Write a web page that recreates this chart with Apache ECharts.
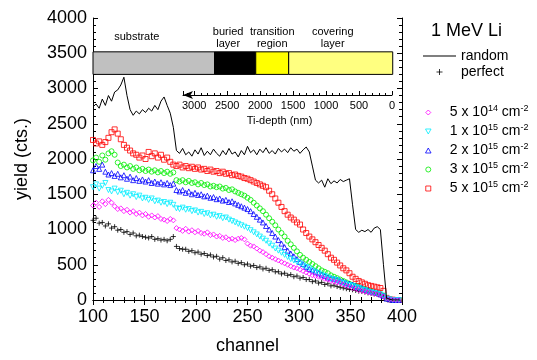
<!DOCTYPE html>
<html>
<head>
<meta charset="utf-8">
<script src="https://cdn.jsdelivr.net/npm/echarts@6/dist/echarts.min.js"></script>
<style>
html, body { margin: 0; background: #fff; }
#main { width: 537px; height: 360px; }
</style>
</head>
<body>
<div id="main"></div>
<script>
// channel numbers of the plotted points
var channels = [
    100,103,106,109,112,115,118,121,124,127,
    130,133,136,139,142,145,148,151,154,157,
    160,163,166,169,172,175,178,181,184,187,
    190,193,196,199,202,205,208,211,214,217,
    220,223,226,229,232,235,238,241,244,247,
    250,253,256,259,262,265,268,271,274,277,
    280,283,286,289,292,295,298,301,304,307,
    310,313,316,319,322,325,328,331,334,337,
    340,343,346,349,352,355,358,361,364,367,
    370,373,376,379,382,385,388,391,394,397
];

var randomYield = [
    2740,2780,2720,2850,2760,2900,2820,2950,2980,3050,
    3160,2900,2700,2620,2680,2640,2700,2660,2720,2680,
    2760,2700,2820,2880,2760,2650,2450,2120,2080,2150,
    2060,2100,2040,2130,2070,2160,2050,2110,2060,2140,
    2080,2040,2120,2060,2150,2070,2100,2030,2120,2060,
    2180,2090,2130,2060,2140,2090,2160,2080,2120,2070,
    2150,2100,2140,2090,2160,2110,2140,2080,2130,2170,
    2100,1900,1700,1660,1700,1600,1720,1650,1690,1660,
    1710,1680,1700,1720,1350,1000,960,990,970,1000,
    960,1020,1040,1000,500,30,10,0,0,0
];

var perfectYield = [
    1130,1160,1090,1100,1050,1080,1020,1040,990,1000,
    960,970,930,950,910,920,900,890,880,900,
    860,870,850,860,840,860,900,760,730,720,
    720,690,700,670,680,650,660,630,640,610,
    620,580,600,560,570,540,550,520,530,500,
    510,480,490,460,470,440,450,420,430,400,
    400,370,380,350,360,330,340,310,320,290,
    290,260,270,240,250,220,230,200,210,190,
    180,170,160,150,145,135,125,120,110,100,
    95,85,80,70,50,15,5,0,0,0
];

var dose5e14 = [
    1340,1380,1320,1400,1360,1420,1380,1330,1290,1300,
    1260,1280,1240,1260,1220,1240,1200,1220,1180,1200,
    1170,1190,1150,1140,1120,1150,1130,1020,1000,980,
    1010,970,990,960,980,950,940,960,920,930,
    900,910,880,890,860,870,850,870,880,860,
    800,770,760,730,700,680,650,620,600,580,
    560,540,520,500,480,460,450,430,410,390,
    370,350,340,330,320,300,290,270,260,250,
    240,220,200,190,170,160,140,130,120,110,
    100,90,80,70,50,20,10,5,0,0
];

var dose1e15 = [
    1600,1640,1580,1620,1660,1560,1540,1580,1530,1550,
    1500,1520,1480,1500,1460,1480,1440,1450,1420,1440,
    1400,1410,1380,1390,1360,1380,1350,1300,1290,1310,
    1280,1290,1260,1270,1240,1250,1220,1230,1200,1210,
    1180,1190,1160,1170,1140,1120,1100,1080,1060,1040,
    1020,990,960,930,900,870,840,800,770,730,
    700,670,640,610,580,560,540,520,490,470,
    450,420,400,380,360,340,320,300,290,280,
    250,240,220,210,200,180,170,150,140,120,
    110,100,90,80,60,20,10,0,0,0
];

var dose2e15 = [
    1840,1900,1860,1920,1820,1780,1800,1760,1790,1740,
    1770,1720,1750,1700,1730,1690,1710,1680,1700,1660,
    1680,1650,1670,1640,1660,1630,1650,1560,1540,1560,
    1520,1540,1500,1520,1490,1500,1470,1480,1450,1460,
    1430,1440,1410,1420,1390,1400,1370,1350,1330,1310,
    1290,1260,1220,1180,1140,1100,1050,1000,950,900,
    850,800,750,700,660,620,580,540,510,470,
    440,420,400,380,360,340,320,310,300,290,
    270,260,240,230,220,200,180,170,150,140,
    120,110,100,80,60,20,10,0,0,0
];

var dose3e15 = [
    1980,2020,1960,2050,1990,2080,2110,2060,1950,1900,
    1920,1880,1900,1860,1880,1840,1860,1830,1850,1820,
    1840,1810,1830,1800,1820,1790,1810,1700,1680,1700,
    1670,1690,1660,1670,1640,1660,1630,1640,1610,1620,
    1600,1610,1580,1590,1560,1570,1540,1520,1500,1480,
    1450,1420,1380,1340,1300,1260,1210,1160,1110,1060,
    1000,950,900,840,790,740,690,640,600,570,
    540,510,480,450,420,400,380,350,330,310,
    290,270,250,230,210,200,180,160,150,130,
    120,100,90,80,60,20,10,0,0,0
];

var dose5e15 = [
    2270,2220,2250,2200,2240,2300,2380,2420,2360,2280,
    2200,2160,2120,2080,2060,2020,2050,2000,2100,2040,
    2080,2020,2060,1990,2020,1960,1920,1900,1920,1880,
    1900,1870,1890,1860,1880,1850,1860,1830,1850,1820,
    1830,1800,1820,1790,1800,1770,1780,1760,1750,1730,
    1720,1700,1680,1660,1640,1620,1600,1550,1500,1440,
    1380,1320,1260,1210,1170,1140,1100,1070,1000,950,
    900,860,820,780,740,700,650,600,570,530,
    490,450,420,380,330,300,270,250,230,210,
    200,190,180,170,130,30,10,5,0,0
];

// legend text of the doses
var doseNames = ['5e14', '1e15', '2e15', '3e15', '5e15'];
var doseMantissa = ['5', '1', '2', '3', '5'];
var doseExponent = ['14', '15', '15', '15', '15'];

// layer bar of the inset (channels)
var layerNames = ['substrate', 'buried\nlayer', 'transition\nregion', 'covering\nlayer'];
var layerFrom = [100, 218, 258, 290];
var layerTo = [218, 258, 290, 391];
var barBottom = 3200;
var barTop = 3520;

// Ti-depth scale of the inset
var depthMax = 3170;

var FONT = 'Liberation Sans';

function pairs(ys) {
    return channels.map(function (c, i) { return [c, ys[i]]; });
}

function plain(v) { return String(v); }

var SYM = {
    plus: 'path://M5,0 L5,10 M0,5 L10,5',
    diamond: 'path://M5,0 L10,5 L5,10 L0,5 Z',
    down: 'path://M0,0 L10,0 L5,9 Z',
    up: 'path://M5,0 L10,9 L0,9 Z',
    circle: 'path://M0,5 A5,5 0 1,1 10,5 A5,5 0 1,1 0,5 Z',
    square: 'path://M0,0 L10,0 L10,10 L0,10 Z',
    line: 'path://M0,0 L33,0 L33,1 L0,1 Z'
};
var doseSymbols = [SYM.diamond, SYM.down, SYM.up, SYM.circle, SYM.square];
var doseColors = ['#ff00ff', '#00eeff', '#0000ff', '#00ee00', '#ff0000'];

var layerColors = ['#c0c0c0', '#000000', '#ffff00', '#ffff80'];
var layerLabelOffset = [[-17, -5], [-7, 2], [0, 2], [-8, 2]];

var barAreas = layerNames.map(function (n, i) {
    return [
        {
            name: n,
            xAxis: layerFrom[i],
            yAxis: barBottom,
            itemStyle: { color: layerColors[i], borderColor: '#000', borderWidth: 1 },
            label: { offset: layerLabelOffset[i] }
        },
        { xAxis: layerTo[i], yAxis: barTop }
    ];
});

function openMarker(i, data, size) {
    return {
        name: doseNames[i],
        type: 'scatter',
        xAxisIndex: 0,
        yAxisIndex: 0,
        data: pairs(data),
        symbol: doseSymbols[i],
        symbolSize: size,
        itemStyle: { color: 'none', borderColor: doseColors[i], borderWidth: 1 },
        emphasis: { disabled: true },
        silent: true
    };
}

var tickStyle = { color: '#000', width: 1 };

var myChart = echarts.init(document.getElementById('main'));
var option = {
    animation: false,
    backgroundColor: '#fff',
    textStyle: { fontFamily: FONT },
    title: {
        text: '1 MeV Li',
        left: 426,
        top: 17,
        textStyle: { fontFamily: FONT, fontSize: 18, fontWeight: 'normal', color: '#000' }
    },
    legend: [
        {
            data: [
                { name: 'random', icon: SYM.line },
                { name: 'perfect', icon: SYM.plus,
                  itemStyle: { color: 'none', borderColor: '#000', borderWidth: 1 } }
            ],
            orient: 'vertical',
            left: 418,
            top: 44,
            itemWidth: 33,
            itemHeight: 6,
            itemGap: 2,
            symbolKeepAspect: true,
            textStyle: { fontFamily: FONT, fontSize: 14, color: '#000' }
        },
        {
            data: doseNames.map(function (n, i) {
                return {
                    name: n,
                    icon: doseSymbols[i],
                    itemStyle: { color: 'none', borderColor: doseColors[i], borderWidth: 1 }
                };
            }),
            orient: 'vertical',
            left: 418,
            top: 99,
            itemWidth: 33,
            itemHeight: 5,
            itemGap: 2,
            symbolKeepAspect: true,
            formatter: function (name) {
                var i = doseNames.indexOf(name);
                return '{n|' + doseMantissa[i] + ' x 10}{s|' + doseExponent[i] + '}{n| cm}{s|-2}';
            },
            textStyle: {
                fontFamily: FONT,
                color: '#000',
                rich: {
                    n: { fontFamily: FONT, fontSize: 14, color: '#000', lineHeight: 17 },
                    s: { fontFamily: FONT, fontSize: 9, color: '#000', verticalAlign: 'top', lineHeight: 17, padding: [0, 0, 8, 0] }
                }
            }
        }
    ],
    grid: [
        { left: 93, right: 135, top: 18, bottom: 60 },
        { left: 183, width: 209, top: 94, height: 1 }
    ],
    xAxis: [
        {
            type: 'value', gridIndex: 0, min: 100, max: 400, interval: 50,
            axisLine: { lineStyle: tickStyle },
            axisTick: { inside: true, length: 5, lineStyle: tickStyle },
            minorTick: { show: true, splitNumber: 5, length: 3, lineStyle: tickStyle },
            splitLine: { show: false },
            axisLabel: { color: '#000', fontFamily: FONT, fontSize: 18, margin: 8, formatter: plain },
            name: 'channel', nameLocation: 'middle', nameGap: 37,
            nameTextStyle: { color: '#000', fontFamily: FONT, fontSize: 18 }
        },
        {
            type: 'value', gridIndex: 0, position: 'top', min: 100, max: 400, interval: 50,
            axisLine: { lineStyle: tickStyle },
            axisTick: { inside: true, length: 5, lineStyle: tickStyle },
            minorTick: { show: true, splitNumber: 5, length: 3, lineStyle: tickStyle },
            splitLine: { show: false },
            axisLabel: { show: false }
        },
        {
            type: 'value', gridIndex: 1, inverse: true, min: 0, max: depthMax, interval: 500,
            axisLine: { lineStyle: tickStyle, symbol: ['arrow', 'none'], symbolSize: [6, 10] },
            axisTick: { inside: true, length: 4, lineStyle: tickStyle },
            minorTick: { show: true, splitNumber: 5, length: 2, lineStyle: tickStyle },
            splitLine: { show: false },
            axisLabel: { color: '#000', fontFamily: FONT, fontSize: 11, margin: 5, showMaxLabel: false, formatter: plain },
            name: 'Ti-depth (nm)', nameLocation: 'middle', nameGap: 20,
            nameTextStyle: { color: '#000', fontFamily: FONT, fontSize: 11, padding: [0, 16, 0, 0] }
        }
    ],
    yAxis: [
        {
            type: 'value', gridIndex: 0, min: 0, max: 4000, interval: 500,
            axisLine: { show: true, lineStyle: tickStyle },
            axisTick: { inside: true, length: 5, lineStyle: tickStyle },
            minorTick: { show: true, splitNumber: 5, length: 3, lineStyle: tickStyle },
            splitLine: { show: false },
            axisLabel: { color: '#000', fontFamily: FONT, fontSize: 18, margin: 6, formatter: plain },
            name: 'yield (cts.)', nameLocation: 'middle', nameGap: 62,
            nameTextStyle: { color: '#000', fontFamily: FONT, fontSize: 18 }
        },
        {
            type: 'value', gridIndex: 0, position: 'right', min: 0, max: 4000, interval: 500,
            axisLine: { show: true, lineStyle: tickStyle },
            axisTick: { inside: true, length: 5, lineStyle: tickStyle },
            minorTick: { show: true, splitNumber: 5, length: 3, lineStyle: tickStyle },
            splitLine: { show: false },
            axisLabel: { show: false }
        },
        {
            type: 'value', gridIndex: 1, show: false, min: 0, max: 1
        }
    ],
    series: [
        {
            name: 'random',
            type: 'line',
            xAxisIndex: 0,
            yAxisIndex: 0,
            data: pairs(randomYield),
            symbol: 'none',
            lineStyle: { color: '#000', width: 1 },
            itemStyle: { color: '#000' },
            emphasis: { disabled: true },
            silent: true,
            markArea: {
                silent: true,
                label: {
                    show: true,
                    position: 'top',
                    distance: 3,
                    color: '#000',
                    fontFamily: FONT,
                    fontSize: 11,
                    lineHeight: 12,
                    align: 'center'
                },
                data: barAreas
            }
        },
        {
            name: 'perfect',
            type: 'scatter',
            xAxisIndex: 0,
            yAxisIndex: 0,
            data: pairs(perfectYield),
            symbol: SYM.plus,
            symbolSize: 5,
            itemStyle: { color: 'none', borderColor: '#000', borderWidth: 1 },
            emphasis: { disabled: true },
            silent: true
        },
        openMarker(4, dose5e15, 5),
        openMarker(3, dose3e15, 5),
        openMarker(2, dose2e15, 5),
        openMarker(1, dose1e15, 5),
        openMarker(0, dose5e14, 5)
    ]
};
myChart.setOption(option);
</script>
</body>
</html>
